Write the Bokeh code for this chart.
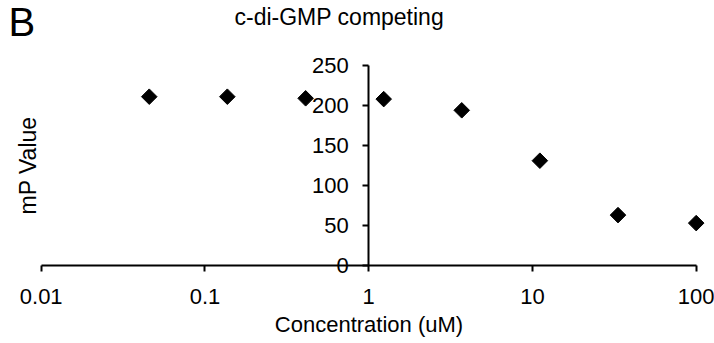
import numpy as np
from bokeh.plotting import figure
from bokeh.models import Range1d, FixedTicker, Label, ColumnDataSource
from bokeh.embed import file_html
from bokeh.resources import INLINE

# Data
concentration_uM = [0.0457, 0.137, 0.412, 1.235, 3.70, 11.1, 33.3, 100.0]
mp_value = [211, 211, 209, 208, 194, 131, 63, 53]

x_ticks = [0.01, 0.1, 1, 10, 100]
x_tick_labels = ["0.01", "0.1", "1", "10", "100"]
y_ticks = [0, 50, 100, 150, 200, 250]

FONT = "Liberation Sans"

# Layout (canvas pixels): the frame fills the canvas, axes are drawn at fixed positions
W, H = 714, 343
AX_LEFT_PX, AX_RIGHT_PX = 40.7, 695.7     # where 0.01 and 100 fall
AX_TOP_PX, AX_BOTTOM_PX = 65.0, 265.0     # where 250 and 0 fall
dec = (AX_RIGHT_PX - AX_LEFT_PX) / 4.0
ppu = (AX_BOTTOM_PX - AX_TOP_PX) / 250.0
x_range = Range1d(0.01 * 10 ** (-AX_LEFT_PX / dec), 100 * 10 ** ((W - AX_RIGHT_PX) / dec))
y_range = Range1d(-(H - AX_BOTTOM_PX) / ppu, 250 + AX_TOP_PX / ppu)

p = figure(
    x_axis_type="log", x_range=x_range, y_range=y_range,
    frame_width=W, frame_height=H,
    min_border=0, min_border_left=0, min_border_right=0,
    min_border_top=0, min_border_bottom=0,
    title=None,
    output_backend="svg", toolbar_location=None,
    background_fill_color="white", border_fill_color="white",
)
p.outline_line_color = None
p.xgrid.visible = False
p.ygrid.visible = False

# x axis at y = 0
xa = p.xaxis[0]
xa.fixed_location = 0
xa.bounds = (0.01, 100)
xa.ticker = FixedTicker(ticks=x_ticks, minor_ticks=[])
xa.major_label_overrides = {t: l for t, l in zip(x_ticks, x_tick_labels)}
xa.axis_line_width = 2
xa.axis_line_color = "black"
xa.major_tick_line_width = 2
xa.major_tick_out = 6
xa.major_tick_in = 0
xa.minor_tick_line_color = None
xa.major_label_text_font = FONT
xa.major_label_text_font_size = "22px"
xa.major_label_text_color = "black"
xa.major_label_standoff = 17
xa.axis_label = "Concentration (uM)"
xa.axis_label_text_font = FONT
xa.axis_label_text_font_size = "22px"
xa.axis_label_text_font_style = "normal"
xa.axis_label_text_color = "black"
xa.axis_label_standoff = 5

# y axis at x = 1
ya = p.yaxis[0]
ya.fixed_location = 1
ya.bounds = (0, 250)
ya.ticker = FixedTicker(ticks=y_ticks, minor_ticks=[])
ya.axis_line_width = 2
ya.axis_line_color = "black"
ya.major_tick_line_width = 2
ya.major_tick_out = 6
ya.major_tick_in = 0
ya.minor_tick_line_color = None
ya.major_label_text_font = FONT
ya.major_label_text_font_size = "22px"
ya.major_label_text_color = "black"
ya.major_label_standoff = 14

src = ColumnDataSource(dict(x=concentration_uM, y=mp_value))
p.scatter("x", "y", source=src, marker="square", angle=np.pi / 4, size=11,
          fill_color="black", line_color="black")

# texts (screen units, y measured from the bottom of the frame)
p.add_layout(Label(x=8, y=H + 1, x_units="screen", y_units="screen", text="B",
                   text_font=FONT, text_font_size="40px", text_baseline="top",
                   text_color="black"))
p.add_layout(Label(x=234, y=H - 3, x_units="screen", y_units="screen",
                   text="c-di-GMP competing", text_font=FONT,
                   text_font_size="23px", text_baseline="top",
                   text_color="black"))
p.add_layout(Label(x=27, y=H - (AX_TOP_PX + AX_BOTTOM_PX) / 2, x_units="screen",
                   y_units="screen", text="mP Value", angle=np.pi / 2,
                   text_align="center", text_baseline="middle",
                   text_font=FONT, text_font_size="23px", text_color="black"))

open("out.html", "w").write(file_html(p, INLINE))
